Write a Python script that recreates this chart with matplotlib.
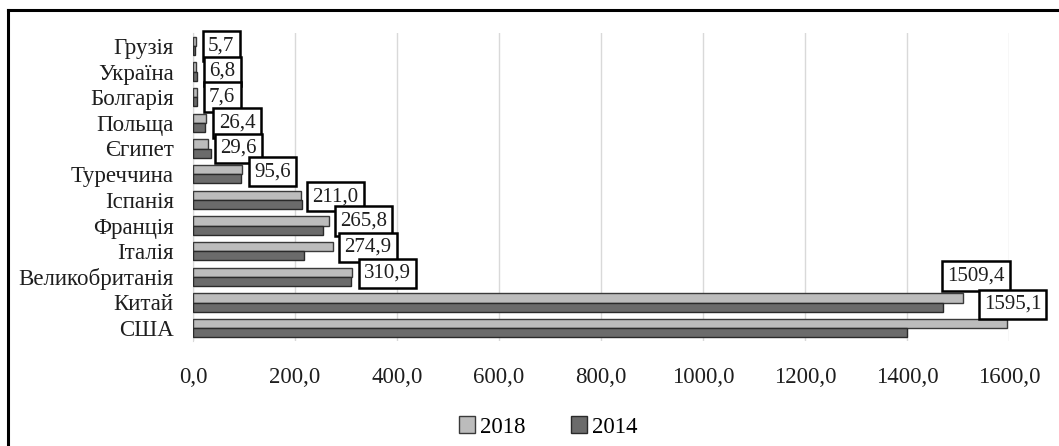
import numpy as np
import matplotlib.pyplot as plt
from matplotlib.lines import Line2D

# data (top to bottom as in the chart)
countries = ['Грузія', 'Україна', 'Болгарія', 'Польща', 'Єгипет', 'Туреччина',
             'Іспанія', 'Франція', 'Італія', 'Великобританія', 'Китай', 'США']
v2018 = [5.7, 6.8, 7.6, 26.4, 29.6, 95.6, 211.0, 265.8, 274.9, 310.9, 1509.4, 1595.1]
v2014 = [3.5, 8.0, 7.0, 23.0, 35.0, 94.0, 214.0, 255.0, 217.0, 310.0, 1470.0, 1400.0]
xticks = [0, 200, 400, 600, 800, 1000, 1200, 1400, 1600]

# label placement tweaks (pixels / category units)
label_dx = [7, 7, 7, 7, 4, 7, 5, 6, 6, 7, -21, -28]
label_dy = [0, 0, 0, 0, 0, -0.1, -0.12, -0.17, -0.15, -0.14, -1.03, -0.93]

plt.rcParams['font.family'] = ['Liberation Serif', 'DejaVu Serif']

W, H = 1059, 446
fig = plt.figure(figsize=(W / 100, H / 100), dpi=100)
ax = fig.add_axes([193 / W, 1 - 341 / H, (1009 - 193) / W, (341 - 33) / H])

y = np.arange(len(countries))
h = 0.36
ax.barh(y - h / 2, v2018, height=h, color='#bcbcbc', edgecolor='#3a3a3a',
        linewidth=1.0, label='2018', zorder=3)
ax.barh(y + h / 2, v2014, height=h, color='#6b6b6b', edgecolor='#2a2a2a',
        linewidth=1.0, label='2014', zorder=3)

ax.set_ylim(len(countries) - 0.5, -0.5)
ax.set_xlim(0, 1600)
ax.set_yticks(y)
ax.set_yticklabels(countries, fontsize=16.5, color='#1e1e1e')
ax.set_xticks(xticks)
ax.set_xticklabels([f'{t:.1f}'.replace('.', ',') for t in xticks],
                   fontsize=16.5, color='#1e1e1e')
ax.tick_params(axis='y', length=0, pad=14)
ax.tick_params(axis='x', length=0, pad=19)
ax.grid(axis='x', color='#d9d9d9', linewidth=1.0, zorder=0)
for s in ['top', 'right', 'bottom']:
    ax.spines[s].set_visible(False)
ax.spines['left'].set_color('#d9d9d9')

pad = 0.25
fs = 15
for i, (a, b) in enumerate(zip(v2018, v2014)):
    x0 = max(a, b)
    ax.annotate(f'{a:.1f}'.replace('.', ','), xy=(x0, i + label_dy[i]),
                xytext=(label_dx[i] + pad * fs * 100 / 72, 0),
                textcoords='offset pixels', ha='left', va='center',
                fontsize=fs, color='#1e1e1e', zorder=5,
                bbox=dict(boxstyle=f'square,pad={pad}', fc='white', ec='black', lw=1.8))

fig.legend(loc='center', bbox_to_anchor=(548 / W, 1 - 427 / H), ncol=2,
           frameon=False, fontsize=16.5, handlelength=0.7, handleheight=0.7,
           handletextpad=0.2, columnspacing=2.0)

# outer frame (left and top edges visible)
lw = 2.2
fig.add_artist(Line2D([8 / W, 8 / W], [0, 1 - 10 / H], color='black', lw=lw))
fig.add_artist(Line2D([8 / W, 1 + 0.01], [1 - 10 / H, 1 - 10 / H], color='black', lw=lw))

fig.savefig('out.png', dpi=100)
